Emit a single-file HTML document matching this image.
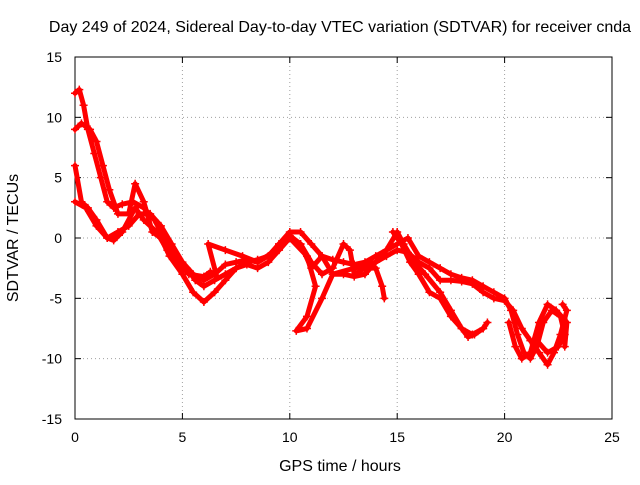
<!DOCTYPE html>
<html><head><meta charset="utf-8"><style>
body{margin:0;background:#fff;}
svg text{font-family:"Liberation Sans",sans-serif;font-size:14px;fill:#000;}
svg text.big{font-size:16px;}
</style></head><body>
<svg id="chart" width="640" height="480">
<rect width="640" height="480" fill="#fff"/>
<text class="big" x="340" y="32" text-anchor="middle">Day 249 of 2024, Sidereal Day-to-day VTEC variation (SDTVAR) for receiver cnda</text>
<g id="grid"></g>
<g id="axes"></g>
<g id="series"></g>
<text class="big" x="340" y="471" text-anchor="middle">GPS time / hours</text>
<text class="big" transform="translate(18,238) rotate(-90)" text-anchor="middle">SDTVAR / TECUs</text>
</svg>
<script>
const xTicks=[0,5,10,15,20,25];
const yTicks=[-15,-10,-5,0,5,10,15];
const track1=[[0,12],[0.2,12.3],[0.4,11],[0.6,9],[0.9,7],[1.2,5],[1.5,3],[1.8,2.5],[2.2,2.8],[2.7,3],[3.2,2.5],[3.7,1.5],[4,0.5],[4.3,-0.5],[4.7,-1.5],[5.2,-2.5],[5.6,-3.5],[6,-4],[6.5,-3.5],[7,-3],[7.5,-2.5],[8,-2],[8.5,-1.8],[9,-1.5],[9.5,-0.5],[10,0.5],[10.5,0.5],[11,-0.5],[11.5,-1.5],[12,-1.8],[12.5,-2],[13,-2.2],[13.5,-2],[14,-1.5],[14.5,-1],[15,0.5],[15.3,-0.5],[15.8,-2],[16.3,-3],[17,-4.5],[17.5,-6],[18,-7.5],[18.5,-8],[19,-7.5],[19.2,-7]];
const track2=[[0,9],[0.3,9.5],[0.7,9],[1,8],[1.3,6],[1.6,4],[2,2],[2.5,2],[2.8,4.5],[3.2,3],[3.6,0.5],[4,0],[4.4,-1.5],[5,-3],[5.5,-4.5],[6,-5.3],[6.5,-4.5],[7,-3.5],[7.5,-2.5],[8,-2.2],[8.5,-2.5],[9,-2],[9.5,-1],[10,0],[10.5,-0.5],[11,-2],[11.5,-3],[12,-2.5],[12.5,-0.5],[12.8,-1],[13,-3],[13.5,-2.5],[14,-2.5],[14.3,-4],[14.4,-5]];
const track3=[[0,6],[0.3,3],[0.6,2.5],[1,1.5],[1.5,0],[1.8,-0.2],[2.2,0.5],[2.8,2.5],[3.2,1.5],[3.8,0.5],[4.3,-1],[4.8,-2],[5.3,-3],[6,-3.2],[6.3,-2.8],[6.6,-3.2],[6.2,-0.5],[7,-1],[7.8,-1.5],[8.5,-2],[9.2,-1.2],[10,0],[10.8,-1.5],[11.2,-4],[10.8,-6.5],[10.3,-7.7],[10.8,-7.5],[11.5,-5],[12,-3],[13,-2.5],[14,-2],[14.5,-1],[15,-0.5],[15.5,0],[16,-1.5],[16.5,-2],[17,-2.5],[17.5,-3],[18,-3.3],[18.5,-3.5],[19,-4],[19.5,-4.5],[20,-5],[20.3,-6],[20.6,-8],[20.9,-9.5],[21.2,-10],[21.5,-9],[21.8,-7],[22.2,-6],[22.6,-6.5],[22.8,-8],[22.5,-9],[22,-9.5],[21.5,-8.5]];
const track4=[[0,3],[0.5,2.5],[1,1],[1.5,0],[2,0.5],[2.5,1],[3,2],[3.5,2],[4,1],[4.5,-0.5],[5,-2],[5.5,-3],[6,-3.5],[6.5,-3],[7,-2.2],[7.5,-2],[8,-1.8],[8.5,-2],[9,-1.5],[9.5,-0.5],[10,0.2],[10.5,-0.5],[11,-2.5],[11.5,-1.5],[12,-3],[12.5,-3],[13,-3.2],[13.5,-3],[14,-2],[14.5,-1.5],[15,-1],[15.5,-1.2],[16,-2],[16.5,-2.5],[17,-3.5],[17.5,-3.5],[18,-3.6],[18.5,-3.8],[19,-4.5],[19.5,-5],[20,-5.2],[20.4,-6],[20.8,-7.5],[21.2,-8.5],[21.6,-9.5],[22,-10.5],[22.3,-9.5],[22.6,-8],[22.9,-6],[22.7,-5.5]];
const track5=[[14.8,0.5],[15.2,-0.5],[15.6,-2],[16,-3],[16.5,-4.5],[17,-5],[17.5,-6.5],[18,-7.5],[18.3,-8.2],[18.6,-8],[19,-7.5]];
const track6=[[20.2,-7],[20.5,-9],[20.8,-10],[21.2,-9.5],[21.6,-7],[22,-5.5],[22.4,-6],[22.9,-7],[22.8,-9]];
const tracks=[track1,track2,track3,track4,track5,track6];
const X0=75,X1=612,Y0=419,Y1=57;
const sx=v=>X0+(v-0)/25*(X1-X0);
const sy=v=>Y0-(v+15)/30*(Y0-Y1);
const NS="http://www.w3.org/2000/svg";
const grid=document.getElementById('grid'),axes=document.getElementById('axes'),ser=document.getElementById('series');
function mk(t,a,p){const e=document.createElementNS(NS,t);for(const k in a)e.setAttribute(k,a[k]);p.appendChild(e);return e;}
xTicks.forEach(v=>{
 if(v>0&&v<25){const g=mk('line',{x1:sx(v),x2:sx(v),y1:Y0,y2:Y1,stroke:'#a0a0a0','stroke-dasharray':'1,3'},grid);
 
 }
 mk('line',{x1:sx(v),x2:sx(v),y1:Y0,y2:Y0-6,stroke:'#000'},axes);
 mk('line',{x1:sx(v),x2:sx(v),y1:Y1,y2:Y1+6,stroke:'#000'},axes);
 const t=mk('text',{x:sx(v),y:Y0+23,'text-anchor':'middle'},axes);t.textContent=v;
 
 
});
yTicks.forEach(v=>{
 if(v>-15&&v<15){const g=mk('line',{x1:X0,x2:X1,y1:sy(v),y2:sy(v),stroke:'#a0a0a0','stroke-dasharray':'1,3'},grid);
 
 }
 mk('line',{x1:X0,x2:X0+6,y1:sy(v),y2:sy(v),stroke:'#000'},axes);
 mk('line',{x1:X1,x2:X1-6,y1:sy(v),y2:sy(v),stroke:'#000'},axes);
 const t=mk('text',{x:X0-13,y:sy(v)+5,'text-anchor':'end'},axes);t.textContent=v;
 
 
});
const fr=mk('rect',{x:X0,y:Y1,width:X1-X0,height:Y0-Y1,fill:'none',stroke:'#000'},axes);


tracks.forEach((tr,i)=>{
 const pl=mk('polyline',{points:tr.map(p=>sx(p[0])+','+sy(p[1])).join(' '),fill:'none',stroke:'#ff0000','stroke-width':5,'stroke-linejoin':'round','stroke-linecap':'round'},ser);
 
 
 tr.forEach(p=>{
  const m=mk('path',{d:`M${sx(p[0])-4},${sy(p[1])}h8M${sx(p[0])},${sy(p[1])-4}v8`,stroke:'#ff0000','stroke-width':1.5},ser);
  
  
 });
});
</script>
</body></html>
